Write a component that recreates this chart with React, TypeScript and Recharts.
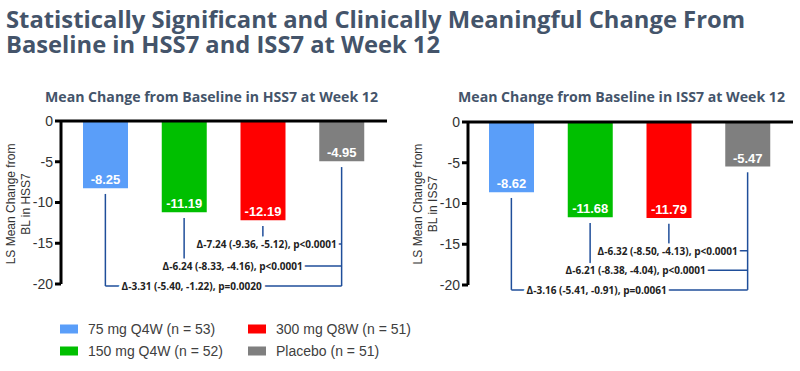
import { BarChart, Bar, XAxis, YAxis, Cell, LabelList, ReferenceLine, ReferenceDot } from "recharts";

const GROUPS = ["75 mg Q4W", "150 mg Q4W", "300 mg Q8W", "Placebo"];
const GROUP_N = [53, 52, 51, 51];
const HSS7_MEANS = [-8.25, -11.19, -12.19, -4.95];
const ISS7_MEANS = [-8.62, -11.68, -11.79, -5.47];
const HSS7_DIFFS = [
  "Δ-3.31 (-5.40, -1.22), p=0.0020",
  "Δ-6.24 (-8.33, -4.16), p<0.0001",
  "Δ-7.24 (-9.36, -5.12), p<0.0001",
];
const ISS7_DIFFS = [
  "Δ-3.16 (-5.41, -0.91), p=0.0061",
  "Δ-6.21 (-8.38, -4.04), p<0.0001",
  "Δ-6.32 (-8.50, -4.13), p<0.0001",
];
const Y_TICKS = [0, -5, -10, -15, -20];

const COLORS = ["#5a9ef9", "#00bf00", "#ff0000", "#7f7f7f"];
const SLATE = "#44546a";
const BRACKET = "#1f4e9a";
const GAP = 0.7;

// bracket levels (data units) and label offsets (px from placebo bar)
const HSS7_LAYOUT = {
  levels: [-20.25, -17.8, -15.1],
  dx: [-150, -109, -75],
  margin: { top: 121, right: 13, bottom: 16, left: 21 },
  pad: { left: 5, right: 6 },
};
const ISS7_LAYOUT = {
  levels: [-20.6, -18.2, -15.8],
  dx: [-151, -112, -80],
  margin: { top: 122, right: 7, bottom: 15, left: 28 },
  pad: { left: 4, right: 6 },
};

const renderBarLabel = (props) => {
  const { x, y, width, height, value } = props;
  const bottom = Math.max(y, y + height);
  return (
    <text
      x={x + width / 2}
      y={bottom - 8.5}
      textAnchor="middle"
      dominantBaseline="central"
      fill="#fff"
      fontFamily="'Liberation Sans', Arial, sans-serif"
      fontWeight="bold"
      fontSize={13}
    >
      {value.toFixed(2)}
    </text>
  );
};

function Panel({ means, diffs, layout }) {
  const data = GROUPS.map((g, i) => ({ group: g, value: means[i] }));
  const placebo = GROUPS[3];
  return (
    <BarChart width={400} height={300} data={data} margin={layout.margin}>
      <XAxis dataKey="group" hide padding={layout.pad} />
      <YAxis
        domain={[-20, 0]}
        ticks={Y_TICKS}
        interval={0}
        width={40}
        tickSize={6}
        tick={{ fontSize: 14, fill: "#333", fontFamily: "'Liberation Sans', Arial, sans-serif" }}
        axisLine={{ stroke: "#000", strokeWidth: 3 }}
        tickLine={{ stroke: "#000", strokeWidth: 3 }}
      />
      <Bar dataKey="value" barSize={45} isAnimationActive={false}>
        {data.map((d, i) => (
          <Cell key={d.group} fill={COLORS[i]} />
        ))}
        <LabelList dataKey="value" content={renderBarLabel} />
      </Bar>
      <ReferenceLine y={0} stroke="#000" strokeWidth={3} />
      <ReferenceLine
        segment={[
          { x: placebo, y: means[3] - GAP },
          { x: placebo, y: Math.min(...layout.levels) },
        ]}
        stroke={BRACKET}
        strokeWidth={1.5}
        ifOverflow="visible"
      />
      {diffs.map((_, i) => (
        <ReferenceLine
          key={"v" + i}
          segment={[
            { x: GROUPS[i], y: means[i] - GAP },
            { x: GROUPS[i], y: layout.levels[i] },
          ]}
          stroke={BRACKET}
          strokeWidth={1.5}
          ifOverflow="visible"
        />
      ))}
      {diffs.map((_, i) => (
        <ReferenceLine
          key={"h" + i}
          segment={[
            { x: GROUPS[i], y: layout.levels[i] },
            { x: placebo, y: layout.levels[i] },
          ]}
          stroke={BRACKET}
          strokeWidth={1.5}
          ifOverflow="visible"
        />
      ))}
      {diffs.map((txt, i) => (
        <ReferenceDot
          key={"t" + i}
          x={placebo}
          y={layout.levels[i]}
          ifOverflow="visible"
          shape={(p) => (
            <text
              x={p.cx + layout.dx[i]}
              y={p.cy}
              textAnchor="middle"
              dominantBaseline="central"
              fontFamily="'Open Sans', sans-serif"
              fontWeight="bold"
              fontSize={10}
              fill="#222"
              stroke="#fff"
              strokeWidth={7}
              paintOrder="stroke"
            >
              {txt}
            </text>
          )}
        />
      ))}
    </BarChart>
  );
}

const LEGEND_ORDER = [0, 1, 2, 3];

export default function App() {
  const arial = "'Liberation Sans', Arial, sans-serif";
  return (
    <div style={{ position: "absolute", left: 0, top: 0, width: 800, height: 371, background: "#fff" }}>
      <div style={{ position: "absolute", left: 0, top: 0 }}>
        <Panel means={HSS7_MEANS} diffs={HSS7_DIFFS} layout={HSS7_LAYOUT} />
      </div>
      <div style={{ position: "absolute", left: 400, top: 0 }}>
        <Panel means={ISS7_MEANS} diffs={ISS7_DIFFS} layout={ISS7_LAYOUT} />
      </div>
      <svg width={800} height={371} style={{ position: "absolute", left: 0, top: 0, pointerEvents: "none" }}>
        <g fontFamily="'Open Sans', sans-serif" fontWeight="bold" fill={SLATE}>
          <text x={6} y={28} fontSize={24} textLength={739} lengthAdjust="spacingAndGlyphs">
            Statistically Significant and Clinically Meaningful Change From
          </text>
          <text x={6} y={53} fontSize={24} textLength={434} lengthAdjust="spacingAndGlyphs">
            Baseline in HSS7 and ISS7 at Week 12
          </text>
          <text x={45} y={102} fontSize={14} textLength={333} lengthAdjust="spacingAndGlyphs">
            Mean Change from Baseline in HSS7 at Week 12
          </text>
          <text x={458} y={102} fontSize={14} textLength={327} lengthAdjust="spacingAndGlyphs">
            Mean Change from Baseline in ISS7 at Week 12
          </text>
        </g>
        <g fontFamily={arial} fontSize={12} fill="#333">
          <text transform="rotate(-90 17.5 204)" x={17.5} y={204} textAnchor="middle">
            <tspan x={17.5} dy={-3}>LS Mean Change from</tspan>
            <tspan x={17.5} dy={15}>BL in HSS7</tspan>
          </text>
          <text transform="rotate(-90 425 204)" x={425} y={204} textAnchor="middle">
            <tspan x={425} dy={-3}>LS Mean Change from</tspan>
            <tspan x={425} dy={15}>BL in ISS7</tspan>
          </text>
        </g>
        <g fontFamily={arial} fontSize={14} fill="#404040">
          {LEGEND_ORDER.map((gi, k) => {
            const col = Math.floor(k / 2);
            const row = k % 2;
            const lx = col === 0 ? 60 : 248;
            const ly = row === 0 ? 329 : 351;
            return (
              <g key={GROUPS[gi]}>
                <rect x={lx} y={ly - 4.5} width={18} height={9} fill={COLORS[gi]} />
                <text x={lx + 28} y={ly} dominantBaseline="central">
                  {`${GROUPS[gi]} (n = ${GROUP_N[gi]})`}
                </text>
              </g>
            );
          })}
        </g>
      </svg>
    </div>
  );
}
